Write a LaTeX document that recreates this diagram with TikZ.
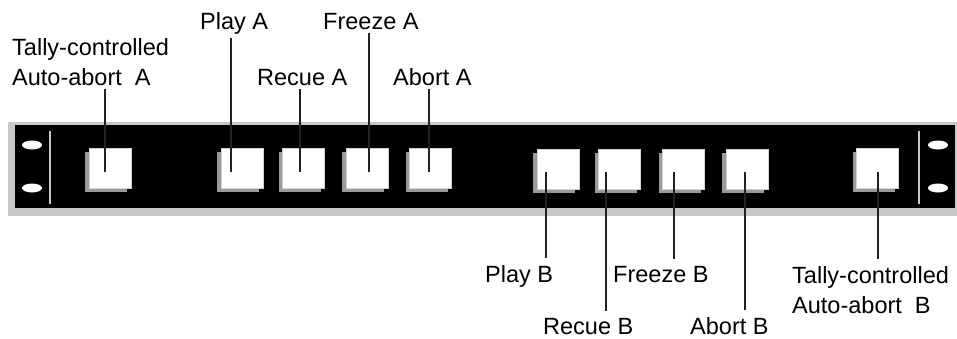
\documentclass[tikz,border=0pt]{standalone}
\usepackage{fontspec}
\setmainfont{Liberation Sans}
\usetikzlibrary{shadows, calc}
\definecolor{panelBlack}{HTML}{000000}
\definecolor{rimGray}{HTML}{C8C8C8}
\definecolor{keyShade}{HTML}{9A9A9A}
\definecolor{leadGray}{HTML}{222222}

\begin{document}
\begin{tikzpicture}[x=1pt, y=-1pt,
  key/.style={fill=white, draw=gray!35, line width=0.8pt,
    minimum width=42pt, minimum height=40pt, inner sep=0pt,
    general shadow={fill=keyShade, shadow xshift=-4pt, shadow yshift=-4pt}},
  lbl/.style={font=\fontsize{23.5}{30}\selectfont, inner sep=0pt,
    align=left, anchor=base west},
  leader/.style={draw=leadGray, line width=1.4pt},
  rail/.style={draw=rimGray, line width=2.5pt}]
  \useasboundingbox (0,0) rectangle (957,338);

  % rack panel
  \fill[rimGray] (8,122) rectangle (957,216);
  \fill[panelBlack] (15,125) rectangle (955,208);
  \draw[rail] (50,131) -- (50,204);
  \draw[rail] (919,131) -- (919,204);
  \fill[white] (32,145) ellipse [x radius=10, y radius=4.5];
  \fill[white] (32,188) ellipse [x radius=10, y radius=4.5];
  \fill[white] (938,145) ellipse [x radius=10, y radius=4.5];
  \fill[white] (938,188) ellipse [x radius=10, y radius=4.5];

  % keys
  \node[key] (autoA) at (110,168) {};
  \node[key] (playA) at (242,168) {};
  \node[key] (recueA) at (303.5,168) {};
  \node[key] (freezeA) at (367,168) {};
  \node[key] (abortA) at (430.5,168) {};
  \node[key] (playB) at (558,169) {};
  \node[key] (recueB) at (619.5,169) {};
  \node[key] (freezeB) at (683.5,169) {};
  \node[key] (abortB) at (747,169) {};
  \node[key] (autoB) at (877.5,168) {};

  % labels (two-line ones sit on their last baseline)
  \node[lbl] (lblAutoA) at (12,85) {Tally-controlled\\Auto-abort\ \ A};
  \node[lbl] (lblPlayA) at (200,29) {Play A};
  \node[lbl] (lblRecueA) at (257,85) {Recue A};
  \node[lbl] (lblFreezeA) at (323,29) {Freeze A};
  \node[lbl] (lblAbortA) at (393,85) {Abort A};
  \node[lbl] (lblPlayB) at (485,282) {Play B};
  \node[lbl] (lblRecueB) at (543,334) {Recue B};
  \node[lbl] (lblFreezeB) at (613,282) {Freeze B};
  \node[lbl] (lblAbortB) at (690,334) {Abort B};
  \node[lbl] (lblAutoB) at (792,313) {Tally-controlled\\Auto-abort\ \ B};

  % leader tips
  \coordinate (tAutoA) at (105,172);
  \coordinate (tPlayA) at (231,172);
  \coordinate (tRecueA) at (300,172);
  \coordinate (tFreezeA) at (369,172);
  \coordinate (tAbortA) at (429,172);
  \coordinate (tPlayB) at (546,172);
  \coordinate (tRecueB) at (606,172);
  \coordinate (tFreezeB) at (674,172);
  \coordinate (tAbortB) at (745,172);
  \coordinate (tAutoB) at (878,172);

  \draw[leader] (tAutoA) -- ([yshift=-4pt]tAutoA |- lblAutoA.south);
  \draw[leader] (tPlayA) -- ([yshift=-4pt]tPlayA |- lblPlayA.south);
  \draw[leader] (tRecueA) -- ([yshift=-4pt]tRecueA |- lblRecueA.south);
  \draw[leader] (tFreezeA) -- ([yshift=-4pt]tFreezeA |- lblFreezeA.south);
  \draw[leader] (tAbortA) -- ([yshift=-4pt]tAbortA |- lblAbortA.south);
  \draw[leader] (tPlayB) -- ([yshift=7pt]tPlayB |- lblPlayB.north);
  \draw[leader] (tRecueB) -- ([yshift=7pt]tRecueB |- lblRecueB.north);
  \draw[leader] (tFreezeB) -- ([yshift=7pt]tFreezeB |- lblFreezeB.north);
  \draw[leader] (tAbortB) -- ([yshift=7pt]tAbortB |- lblAbortB.north);
  \draw[leader] (tAutoB) -- ([yshift=7pt]tAutoB |- lblAutoB.north);
\end{tikzpicture}
\end{document}
